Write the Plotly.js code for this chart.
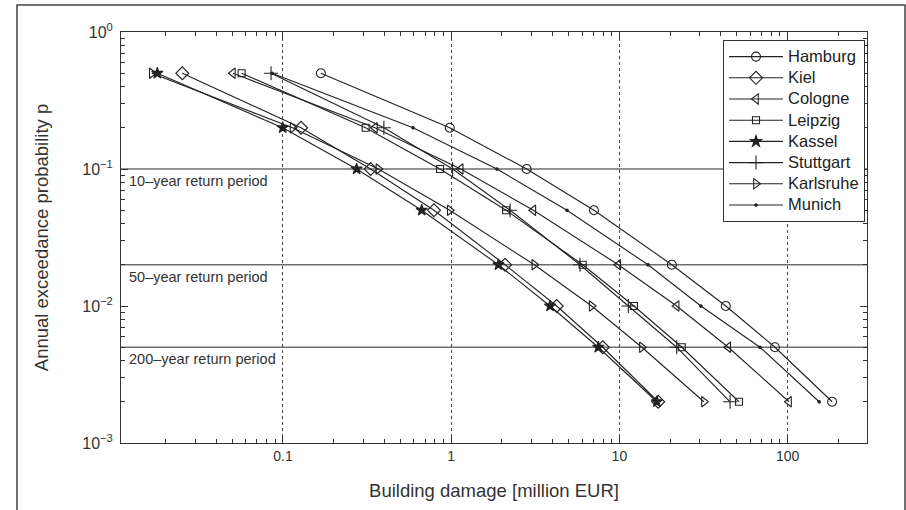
<!DOCTYPE html>
<html>
<head>
<meta charset="utf-8">
<script src="https://cdn.plot.ly/plotly-3.0.1.min.js"></script>
<style>
  html, body { margin: 0; padding: 0; background: #ffffff; }
  #chart { width: 906px; height: 510px; }
</style>
</head>
<body>
<div id="chart"></div>
<script>
// Annual exceedance probabilities (y values shared by all cities)
const probs = [0.5, 0.2, 0.1, 0.05, 0.02, 0.01, 0.005, 0.002];

// Building damage [million EUR] per city
const hamburg   = [0.168, 0.98, 2.81, 7.06, 20.5, 42.9, 84.1, 184];
const kiel      = [0.0252, 0.128, 0.332, 0.79, 2.09, 4.24, 7.96, 17.0];
const cologne   = [0.0504, 0.352, 1.14, 3.08, 9.85, 21.9, 44.4, 102];
const leipzig   = [0.0568, 0.310, 0.858, 2.12, 6.05, 12.2, 23.5, 51.4];
const kassel    = [0.0179, 0.0996, 0.274, 0.668, 1.91, 3.87, 7.49, 16.7];
const stuttgart = [0.0849, 0.398, 1.02, 2.24, 5.83, 11.3, 21.9, 45.5];
const karlsruhe = [0.0166, 0.114, 0.369, 0.98, 3.12, 6.84, 13.6, 31.8];
const munich    = [0.0861, 0.593, 1.87, 4.88, 14.8, 30.5, 68.5, 154];

const cityNames = ["Hamburg", "Kiel", "Cologne", "Leipzig", "Kassel", "Stuttgart", "Karlsruhe", "Munich"];
const citySeries = [hamburg, kiel, cologne, leipzig, kassel, stuttgart, karlsruhe, munich];

// Return period reference lines
const returnProbs  = [0.1, 0.02, 0.005];
const returnLabels = ["10\u2013year return period", "50\u2013year return period", "200\u2013year return period"];

// Axis tick labels
const xTickVals  = [0.1, 1, 10, 100];
const xTickText  = ["0.1", "1", "10", "100"];
const yTickVals  = [0.001, 0.01, 0.1, 1];
const yTickText  = ["10<sup>\u22123</sup>", "10<sup>\u22122</sup>", "10<sup>\u22121</sup>", "10<sup>0</sup>"];

// minor tick positions (2..9 in each decade)
const xMinor = [];
[0.01, 0.1, 1, 10, 100].forEach(d => { for (let k = 2; k <= 9; k++) xMinor.push(+(k * d).toPrecision(3)); });
const yMinor = [];
[0.001, 0.01, 0.1].forEach(d => { for (let k = 2; k <= 9; k++) yMinor.push(+(k * d).toPrecision(3)); });

const styles = [
  { symbol: "circle-open", size: 9 },
  { symbol: "diamond-open", size: 10 },
  { symbol: "triangle-left-open", size: 9 },
  { symbol: "square-open", size: 7 },
  { symbol: "star", size: 8.5 },
  { symbol: "cross-thin-open", size: 10 },
  { symbol: "triangle-right-open", size: 9 },
  { symbol: "circle", size: 2.5 }
];

const lineColor = "#222222";
const fontFam = "Liberation Sans, Arial, sans-serif";
const traces = cityNames.map((name, i) => ({
  type: "scatter",
  mode: "lines+markers",
  name: '<span style="font-size:16.5px">' + name + '</span>',
  x: citySeries[i],
  y: probs,
  line: { color: lineColor, width: 1.1 },
  marker: {
    symbol: styles[i].symbol,
    size: styles[i].size,
    color: lineColor,
    line: { color: lineColor, width: 1.1 }
  }
}));

const L = 121, R = 39, T = 32, B = 67;
const W = 906, H = 510;
const pw = W - L - R, ph = H - T - B;

const shapes = returnProbs.map(p => ({
  type: "line", xref: "paper", yref: "y",
  x0: 0, x1: 1, y0: p, y1: p,
  line: { color: "#6e6e6e", width: 1.6 },
  layer: "below"
}));
// outer figure frame
shapes.push({
  type: "rect", xref: "paper", yref: "paper",
  x0: (17 - L) / pw, x1: (905 - L) / pw,
  y0: (H - B - 515) / ph, y1: (H - B - 5) / ph,
  line: { color: "#444444", width: 1.5 }, fillcolor: "rgba(0,0,0,0)"
});

const annotations = returnProbs.map((p, i) => ({
  xref: "paper", yref: "y",
  x: (127 - L) / pw, y: Math.log10(p),
  xanchor: "left", yanchor: "top",
  yshift: -2,
  text: returnLabels[i],
  showarrow: false,
  font: { family: fontFam, size: 14.5, color: "#333333" }
}));

const layout = {
  width: W, height: H,
  margin: { l: L, r: R, t: T, b: B, pad: 0 },
  paper_bgcolor: "#ffffff",
  plot_bgcolor: "#ffffff",
  font: { family: fontFam, color: "#333333" },
  showlegend: true,
  legend: {
    x: (865 - L) / pw, y: (H - B - 40) / ph,
    xanchor: "right", yanchor: "top",
    bgcolor: "#ffffff",
    bordercolor: "#333333", borderwidth: 1,
    font: { family: fontFam, size: 14, color: "#222222" },
    tracegroupgap: 0,
    itemwidth: 54
  },
  xaxis: {
    type: "log",
    range: [-1.963, 2.472],
    tickmode: "array", tickvals: xTickVals, ticktext: xTickText,
    ticks: "inside", ticklen: 7, tickwidth: 1, tickcolor: "#333333",
    minor: { tickmode: "array", tickvals: xMinor, ticks: "inside", ticklen: 4, tickwidth: 1, tickcolor: "#333333", showgrid: false },
    showgrid: true, gridcolor: "#444444", griddash: "dot", gridwidth: 1,
    showline: true, linecolor: "#333333", linewidth: 1, mirror: "ticks",
    zeroline: false,
    tickfont: { size: 14, color: "#333333" },
    title: { text: "Building damage [million EUR]", font: { size: 18.5, color: "#333333" }, standoff: 21 }
  },
  yaxis: {
    type: "log",
    range: [-3, 0],
    tickmode: "array", tickvals: yTickVals, ticktext: yTickText,
    ticks: "inside", ticklen: 7, tickwidth: 1, tickcolor: "#333333",
    minor: { tickmode: "array", tickvals: yMinor, ticks: "inside", ticklen: 4, tickwidth: 1, tickcolor: "#333333", showgrid: false },
    showgrid: false,
    showline: true, linecolor: "#333333", linewidth: 1, mirror: "ticks",
    zeroline: false,
    ticklabelstandoff: 4,
    tickfont: { size: 16, color: "#333333" },
    title: { text: "Annual exceedance probability p", font: { size: 18.5, color: "#333333" }, standoff: 28 }
  },
  shapes: shapes,
  annotations: annotations
};

Plotly.newPlot("chart", traces, layout, { displayModeBar: false, staticPlot: true });
</script>
</body>
</html>
